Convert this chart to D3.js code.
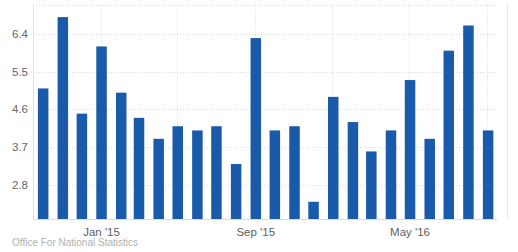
<!DOCTYPE html>
<html>
<head>
<meta charset="utf-8">
<script src="https://cdn.jsdelivr.net/npm/d3@7"></script>
<style>
  html, body { margin: 0; padding: 0; background: #fff; }
  svg { display: block; font-family: "Liberation Sans", Arial, sans-serif; }
</style>
</head>
<body>
<svg id="chart" width="518" height="252"></svg>
<script>
// Monthly values, Oct 2014 - Sep 2016
const months = ['2014-10', '2014-11', '2014-12', '2015-01', '2015-02', '2015-03', '2015-04', '2015-05',
  '2015-06', '2015-07', '2015-08', '2015-09', '2015-10', '2015-11', '2015-12', '2016-01',
  '2016-02', '2016-03', '2016-04', '2016-05', '2016-06', '2016-07', '2016-08', '2016-09'];
const values = [5.1, 6.8, 4.5, 6.1, 5.0, 4.4, 3.9, 4.2, 4.1, 4.2, 3.3, 6.3,
  4.1, 4.2, 2.4, 4.9, 4.3, 3.6, 4.1, 5.3, 3.9, 6.0, 6.6, 4.1];
const yTicks = [2.8, 3.7, 4.6, 5.5, 6.4];
const gridMonths = ['2015-01', '2015-05', '2015-09', '2016-01', '2016-05', '2016-09'];
const labelMonths = ['2015-01', '2015-09', '2016-05'];
const sourceText = 'Office For National Statistics';

const parse = d3.utcParse('%Y-%m');
const fmt = d3.utcFormat("%b '%y");

const svg = d3.select('#chart');
const plotLeft = 33, plotRight = 497, plotTop = 4.5, plotBottom = 219;

const x = d3.scaleUtc()
  .domain([new Date(Date.UTC(2014, 8, 15)), new Date(Date.UTC(2016, 8, 15))])
  .range([plotLeft, plotRight]);
const y = d3.scaleLinear().domain([1.99, 7.1]).range([plotBottom, plotTop]);

const grid = svg.append('g');

// horizontal dotted grid
grid.selectAll('.hgrid')
  .data(yTicks.concat([7.1]))
  .join('line')
  .attr('x1', plotLeft).attr('x2', plotRight)
  .attr('y1', d => Math.round(y(d)) + 0.5).attr('y2', d => Math.round(y(d)) + 0.5)
  .attr('stroke', '#d8d8d8')
  .attr('stroke-dasharray', '1,2');

// vertical dotted grid
grid.selectAll('.vgrid')
  .data(gridMonths.map(parse))
  .join('line')
  .attr('x1', d => Math.round(x(d)) - 0.5).attr('x2', d => Math.round(x(d)) - 0.5)
  .attr('y1', plotTop).attr('y2', plotBottom)
  .attr('stroke', '#d8d8d8')
  .attr('stroke-dasharray', '1,2');

// axis lines
svg.append('line')
  .attr('x1', plotLeft + 0.5).attr('x2', plotLeft + 0.5)
  .attr('y1', plotTop).attr('y2', plotBottom)
  .attr('stroke', '#e0e0e0');
svg.append('line')
  .attr('x1', 507.5).attr('x2', 507.5)
  .attr('y1', 4).attr('y2', plotBottom)
  .attr('stroke', '#e6e6e6');

// bars
const barW = 10.5;
svg.selectAll('.bar')
  .data(months.map((m, i) => ({ date: parse(m), value: values[i] })))
  .join('rect')
  .attr('class', 'bar')
  .attr('x', d => x(d.date) - barW / 2)
  .attr('width', barW)
  .attr('y', d => y(d.value))
  .attr('height', d => plotBottom - y(d.value))
  .attr('fill', '#1a5aab');

svg.append('line')
  .attr('x1', plotLeft).attr('x2', plotRight)
  .attr('y1', plotBottom + 0.5).attr('y2', plotBottom + 0.5)
  .attr('stroke', '#dcdcdc');

// y labels
svg.selectAll('.ylab')
  .data(yTicks)
  .join('text')
  .attr('x', 28)
  .attr('y', d => y(d) + 4)
  .attr('text-anchor', 'end')
  .attr('font-size', 11.5)
  .attr('fill', '#666')
  .text(d => d.toFixed(1));

// x labels
svg.selectAll('.xlab')
  .data(labelMonths.map(parse))
  .join('text')
  .attr('x', d => x(d))
  .attr('y', 236)
  .attr('text-anchor', 'middle')
  .attr('font-size', 11.5)
  .attr('fill', '#606060')
  .text(d => fmt(d));

// source
svg.append('text')
  .attr('x', 12)
  .attr('y', 245.5)
  .attr('font-size', 10)
  .attr('fill', '#b0b0b0')
  .text(sourceText);
</script>
</body>
</html>
